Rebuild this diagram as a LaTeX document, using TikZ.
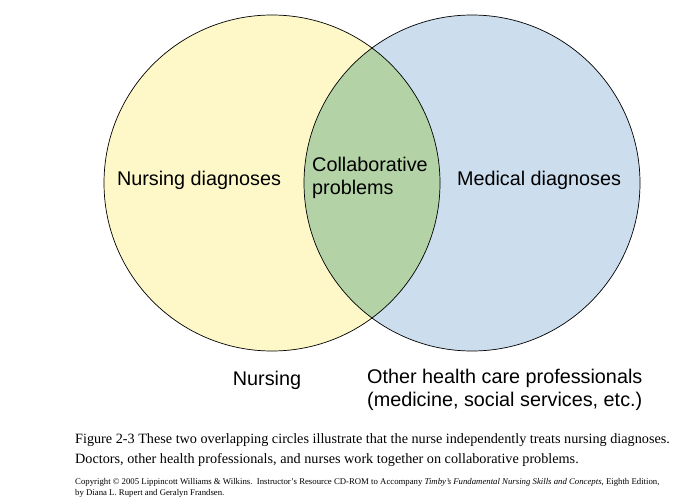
\documentclass[tikz,border=0pt]{standalone}
\usepackage{fontspec}
\setmainfont{Liberation Serif}
\setsansfont{Liberation Sans}
\begin{document}
\begin{tikzpicture}[x=1pt,y=-1pt,
  lab/.style={font=\sffamily\fontsize{19.8}{23}\selectfont,inner sep=0pt},
  captxt/.style={font=\fontsize{14.2}{20}\selectfont,inner sep=0pt,anchor=north west,align=left},
  copytxt/.style={font=\fontsize{8.75}{11}\selectfont,inner sep=0pt,anchor=north west,align=left}]
\useasboundingbox (0,0) rectangle (700,500);
\definecolor{nyel}{HTML}{FEF8C8}
\definecolor{mblu}{HTML}{CCDDEE}
\definecolor{cgrn}{HTML}{B3D3A6}
\fill[nyel] (272,183) circle (168);
\fill[mblu] (472,183) circle (168);
\begin{scope}
\clip (272,183) circle (168);
\fill[cgrn] (472,183) circle (168);
\end{scope}
\draw[line width=0.7pt] (272,183) circle (168);
\draw[line width=0.7pt] (472,183) circle (168);
\node[lab] (nd) at (199,180) {Nursing diagnoses};
\node[lab,anchor=west,align=left] (cp) at (312,178) {Collaborative\\problems};
\node[lab] (md) at (539,180) {Medical diagnoses};
\node[lab] (nu) at (267,380) {Nursing};
\node[lab,anchor=north west,align=left] (oh) at (367,369) {Other health care professionals\\(medicine, social services, etc.)};
\node[captxt] (c1) at (75,433) {Figure 2-3 These two overlapping circles illustrate that the nurse independently treats nursing diagnoses.\\Doctors, other health professionals, and nurses work together on collaborative problems.};
\node[copytxt] (c2) at (75,478) {Copyright \textcopyright{} 2005 Lippincott Williams \& Wilkins.\ \ Instructor's Resource CD-ROM to Accompany \textit{Timby's Fundamental Nursing Skills and Concepts}, Eighth Edition,\\by Diana L. Rupert and Geralyn Frandsen.};
\end{tikzpicture}
\end{document}
